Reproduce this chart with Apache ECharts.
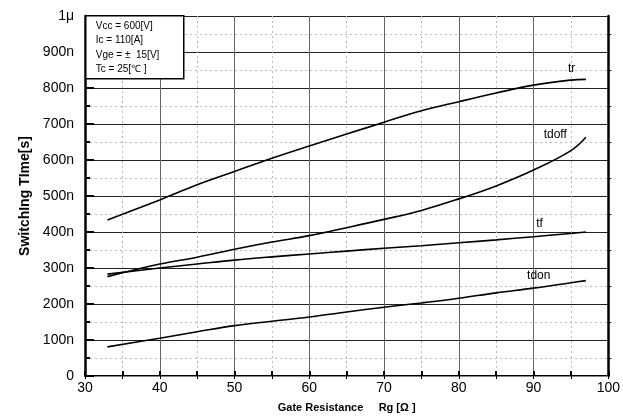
<!DOCTYPE html>
<html>
<head>
<meta charset="utf-8">
<script src="https://cdn.jsdelivr.net/npm/echarts@6/dist/echarts.min.js"></script>
<style>
  body { margin: 0; background: #fff; }
  #chart { width: 623px; height: 420px; }
</style>
</head>
<body>
<div id="chart"></div>
<script>
// gate resistance [ohm]
let rg = [33, 40, 45, 50, 55, 60, 65, 70, 75, 80, 85, 90, 95, 97];
// switching times in ns
let tr = [433, 489, 531, 568, 605, 639, 672, 705, 737, 762, 786, 808, 822, 824];
let tdoff = [276, 311, 330, 352, 372, 390, 412, 435, 460, 492, 528, 572, 626, 663];
let tf = [283, 300, 311, 322, 331, 339, 347, 355, 362, 370, 378, 387, 396, 400];
let tdon = [81, 105, 123, 140, 152, 164, 178, 191, 203, 216, 231, 244, 259, 265];

let seriesNames = ['tr', 'tdoff', 'tf', 'tdon'];
// where each curve name sits (x in ohm, y in ns)
let nameSpots = [[95.1, 855], [92.9, 669], [90.8, 422], [90.7, 278]];

let conditions = ['Vcc = 600[V]', 'Ic = 110[A]', 'Vge = \u00b1  15[V]', 'Tc = 25[\u2103 ]'];

const font = 'Liberation Sans, Arial, sans-serif';

function pairs(ys) {
    return rg.map((x, i) => [x, ys[i]]);
}

function curve(name, ys, spot) {
    return {
        name: name,
        type: 'line',
        smooth: 0.4,
        showSymbol: false,
        animation: false,
        lineStyle: { color: '#000', width: 1.6 },
        data: pairs(ys),
        markPoint: {
            symbol: 'circle',
            symbolSize: 0,
            silent: true,
            animation: false,
            label: {
                show: true,
                position: 'inside',
                formatter: name,
                color: '#000',
                fontSize: 12,
                fontFamily: font
            },
            data: [{ coord: spot }]
        }
    };
}

let myChart = echarts.init(document.getElementById('chart'));

let option = {
    backgroundColor: '#fff',
    grid: { left: 85, right: 13, top: 16, bottom: 44 },
    xAxis: [
        {
            type: 'value',
            min: 30,
            max: 100,
            interval: 10,
            name: 'Gate Resistance     Rg [\u03a9 ]',
            nameLocation: 'middle',
            nameGap: 26,
            nameTextStyle: { fontFamily: font, fontWeight: 'bold', fontSize: 11, color: '#000' },
            axisLine: { lineStyle: { color: '#000', width: 2 } },
            axisTick: { inside: true, length: 5, lineStyle: { color: '#000', width: 2 } },
            minorTick: { show: true, splitNumber: 2, length: 5, lineStyle: { color: '#000', width: 2 } },
            axisLabel: { fontFamily: font, fontSize: 14, color: '#000', margin: 5 },
            splitLine: { lineStyle: { color: '#666', width: 1 } },
            minorSplitLine: { show: true, lineStyle: { color: '#bbb', type: [2, 3] } }
        },
        {
            type: 'value',
            position: 'top',
            min: 30,
            max: 100,
            interval: 10,
            axisLine: { lineStyle: { color: '#888', width: 1 } },
            axisTick: { inside: true, length: 3, lineStyle: { color: '#000' } },
            minorTick: { show: true, splitNumber: 2, length: 3, lineStyle: { color: '#000' } },
            axisLabel: { show: false },
            splitLine: { show: false }
        }
    ],
    yAxis: [
        {
            type: 'value',
            min: 0,
            max: 1000,
            interval: 100,
            name: 'SwitchIng TIme[s]',
            nameLocation: 'middle',
            nameGap: 52,
            nameTextStyle: { fontFamily: font, fontWeight: 'bold', fontSize: 14, color: '#000' },
            axisLine: { lineStyle: { color: '#000', width: 2.5 } },
            axisTick: { inside: true, length: 9, lineStyle: { color: '#000', width: 2 } },
            minorTick: { show: true, splitNumber: 2, length: 5, lineStyle: { color: '#000', width: 2 } },
            axisLabel: {
                fontFamily: font, fontSize: 14, color: '#000', margin: 11,
                formatter: v => v === 0 ? '0' : (v === 1000 ? '1\u03bc' : v + 'n')
            },
            splitLine: { lineStyle: { color: '#222', width: 1 } },
            minorSplitLine: { show: true, lineStyle: { color: '#bbb', type: [2, 3] } }
        },
        {
            type: 'value',
            position: 'right',
            min: 0,
            max: 1000,
            interval: 100,
            axisLine: { show: true, lineStyle: { color: '#000', width: 2.5 } },
            axisTick: { show: false },
            minorTick: { show: true, splitNumber: 2, length: 3, lineStyle: { color: '#000' } },
            axisLabel: { show: false },
            splitLine: { show: false }
        }
    ],
    series: seriesNames.map((n, i) => curve(n, [tr, tdoff, tf, tdon][i], nameSpots[i])),
    graphic: [
        {
            type: 'group',
            left: 85,
            top: 15,
            z: 100,
            children: [
                {
                    type: 'rect',
                    z: 100,
                    shape: { x: 0, y: 0, width: 98, height: 63 },
                    style: { fill: '#fff', stroke: '#000', lineWidth: 1.5 }
                }
            ].concat(conditions.map((t, i) => ({
                type: 'text',
                z: 101,
                x: 10,
                y: 5 + i * 14.5,
                style: { text: t, fontFamily: font, fontSize: 10, fill: '#000' }
            })))
        }
    ]
};

myChart.setOption(option);
</script>
</body>
</html>
